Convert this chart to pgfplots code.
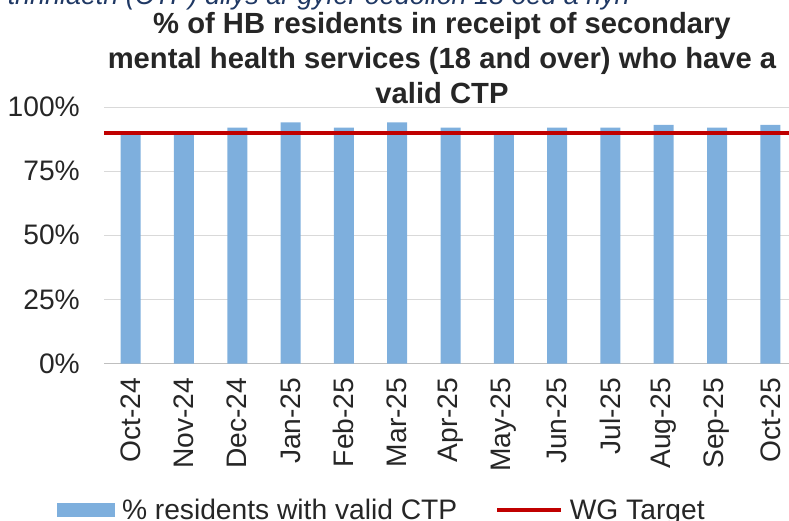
\documentclass[border=0pt]{standalone}
\usepackage{fontspec}
\setmainfont{Liberation Sans}
\usepackage{pgfplots}
\pgfplotsset{compat=1.18}
\definecolor{barblue}{HTML}{7EAFDD}
\definecolor{wgred}{HTML}{C00000}
\definecolor{gridgray}{HTML}{D9D9D9}
\definecolor{axisgray}{HTML}{BFBFBF}
\definecolor{navy}{HTML}{1F3864}
\begin{document}
\begin{tikzpicture}[x=1bp,y=1bp]
\useasboundingbox (0,0) rectangle (789,-521);
\clip (0,0) rectangle (789,-521);
\node[anchor=base east, font=\fontsize{27}{30}\selectfont\itshape, text=navy, inner sep=0] at (630,-5) {Gofal a thriniaeth (CTP) dilys ar gyfer oedolion 18 oed a hŷn};
\begin{axis}[
  at={(104bp,-363.5bp)}, anchor=south west,
  width=693bp, height=256.5bp, scale only axis,
  xmin=-0.5, xmax=12.5, ymin=0, ymax=100,
  axis x line*=bottom, axis y line*=left,
  y axis line style={draw=none},
  x axis line style={draw=axisgray, line width=1bp},
  ytick={0,25,50,75,100},
  yticklabel={\pgfmathprintnumber{\tick}\%},
  /pgf/number format/assume math mode=true,
  ytick style={draw=none},
  ymajorgrids, grid style={gridgray, line width=1bp},
  xtick={0,...,12},
  xticklabels={Oct-24,Nov-24,Dec-24,Jan-25,Feb-25,Mar-25,Apr-25,May-25,Jun-25,Jul-25,Aug-25,Sep-25,Oct-25},
  xtick style={draw=none},
  extra x ticks={-0.5,0.5,1.5,2.5,3.5,4.5,5.5,6.5,7.5,8.5,9.5,10.5,11.5,12.5},
  extra x tick labels={},
  extra x tick style={grid=none, tick align=outside, major tick length=5bp, tick style={draw=axisgray, line width=1bp}},
  ticklabel style={font=\fontsize{28.3}{31}\selectfont, text=black!85},
  yticklabel style={inner sep=0, xshift=-24bp},
  xticklabel style={rotate=90, anchor=east, inner sep=0, xshift=-14bp},
  title={\% of HB residents in receipt of secondary\\mental health services (18 and over) who have a\\valid CTP},
  title style={at={(axis description cs:0.4877,1.345)}, anchor=north, inner sep=0, align=center, font=\fontsize{29.3}{35}\selectfont\bfseries, text=black!85},
  legend columns=2,
  legend style={draw=none, fill=none, inner sep=0, outer sep=0,
    at={(axis description cs:-0.0678,-0.571)}, anchor=west,
    font=\fontsize{28.3}{31}\selectfont,
    nodes={inner sep=0, text=black!85},
    /tikz/every odd column/.append style={column sep=7bp},
    /tikz/every even column/.append style={column sep=38bp}},
]
\addplot[ybar, bar width=20bp, fill=barblue, draw=none,
  legend image code/.code={\fill[barblue] (0bp,-7bp) rectangle (58bp,7bp);}]
  coordinates {(0,90) (1,90) (2,92) (3,94) (4,92) (5,94) (6,92) (7,90) (8,92) (9,92) (10,93) (11,92) (12,93)};
\addlegendentry{\% residents with valid CTP}
\addplot[wgred, line width=4bp, sharp plot,
  legend image code/.code={\draw[wgred, line width=3.5bp] (0bp,0bp) -- (64bp,0bp);}]
  coordinates {(-0.5,90) (12.5,90)};
\addlegendentry{WG Target}
\end{axis}
\end{tikzpicture}
\end{document}
